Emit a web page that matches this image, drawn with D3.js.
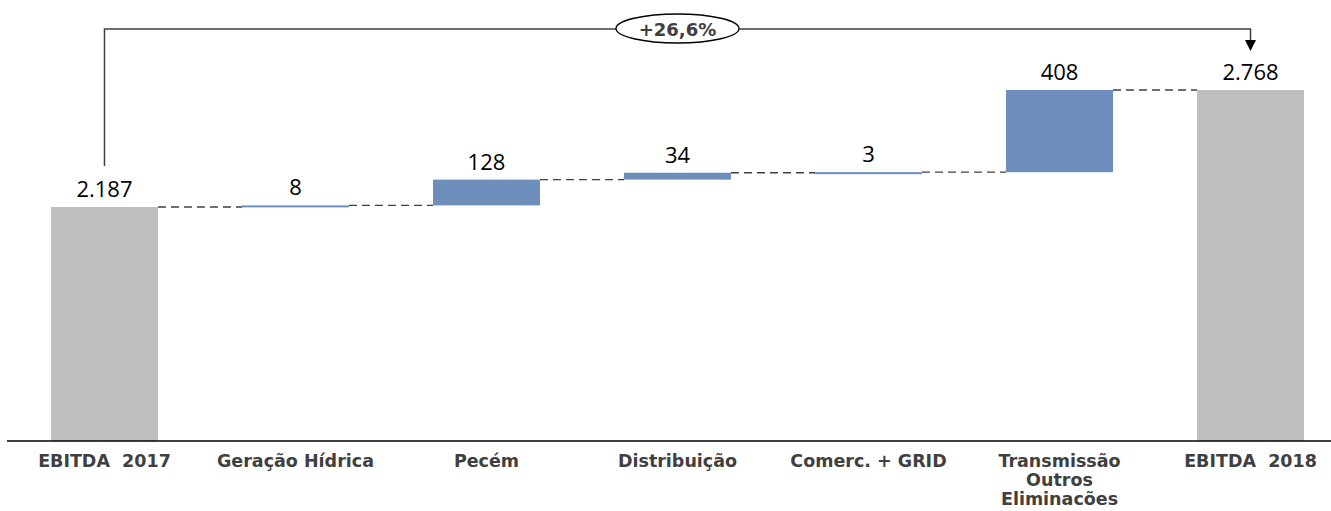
<!DOCTYPE html>
<html>
<head>
<meta charset="utf-8">
<script src="https://cdn.jsdelivr.net/npm/d3@7"></script>
<style>
  body { margin: 0; background: #fff; }
  svg { display: block; }
</style>
</head>
<body>
<div id="chart"></div>
<script>
// data
const categories = ["EBITDA  2017", "Geração Hídrica", "Pecém", "Distribuição", "Comerc. + GRID", "Transmissão\nOutros\nEliminacões", "EBITDA  2018"];
const values = [2187, 8, 128, 34, 3, 408, 2768];
const valueLabels = ["2.187", "8", "128", "34", "3", "408", "2.768"];
const kinds = ["total", "step", "step", "step", "step", "step", "total"];
const growthLabel = "+26,6%";

const width = 1331, height = 511;
const baseY = 441;
const yMin = 1025; // value axis is cut, not starting at zero

const svg = d3.select("#chart").append("svg")
    .attr("width", width)
    .attr("height", height);

const x = d3.scaleBand()
    .domain(categories)
    .range([51, 1304])
    .paddingInner(0.44)
    .paddingOuter(0);

const y = d3.scaleLinear()
    .domain([yMin, 2768])
    .range([baseY, 90]);

// build waterfall rows
let running = 0;
const rows = categories.map((c, i) => {
    let y0, y1;
    if (kinds[i] === "total") {
        y0 = yMin; y1 = values[i];
        running = values[i];
    } else {
        y0 = running; y1 = running + values[i];
        running = y1;
    }
    return { cat: c, y0: y0, y1: y1, kind: kinds[i], label: valueLabels[i] };
});

// bars
svg.selectAll(".bar")
    .data(rows)
    .enter().append("rect")
    .attr("class", "bar")
    .attr("x", d => x(d.cat))
    .attr("width", x.bandwidth())
    .attr("y", d => y(d.y1))
    .attr("height", d => Math.max(2, y(d.y0) - y(d.y1)))
    .attr("fill", d => d.kind === "total" ? "#bfbfbf" : "#6d8ebb");

// dashed connectors
svg.selectAll(".conn")
    .data(rows.slice(0, -1))
    .enter().append("line")
    .attr("x1", d => x(d.cat) + x.bandwidth())
    .attr("x2", (d, i) => x(categories[i + 1]))
    .attr("y1", d => y(d.y1))
    .attr("y2", d => y(d.y1))
    .attr("stroke", "#404040")
    .attr("stroke-width", 1.3)
    .attr("stroke-dasharray", "8,5");

// value labels
svg.selectAll(".val")
    .data(rows)
    .enter().append("text")
    .attr("x", d => x(d.cat) + x.bandwidth() / 2)
    .attr("y", d => y(d.y1) - 10)
    .attr("text-anchor", "middle")
    .attr("font-family", "'Open Sans', sans-serif")
    .attr("font-size", 22)
    .attr("fill", "#000")
    .text(d => d.label);

// x axis
const xAxis = svg.append("g")
    .attr("transform", `translate(0,${baseY})`)
    .call(d3.axisBottom(x).tickSize(0).tickFormat(""));
xAxis.select(".domain")
    .attr("d", `M7,0H${width}`)
    .attr("stroke", "#000")
    .attr("stroke-width", 1.5);

svg.selectAll(".cat")
    .data(categories)
    .enter().append("text")
    .attr("class", "cat")
    .attr("x", d => x(d) + x.bandwidth() / 2)
    .attr("y", 467)
    .attr("text-anchor", "middle")
    .attr("font-family", "'DejaVu Sans', Verdana, sans-serif")
    .attr("font-weight", "bold")
    .attr("font-size", 17.5)
    .attr("fill", "#404040")
    .attr("xml:space", "preserve")
    .each(function(d) {
        const lines = d.split("\n");
        d3.select(this).selectAll("tspan")
            .data(lines)
            .enter().append("tspan")
            .attr("x", x(d) + x.bandwidth() / 2)
            .attr("dy", (l, i) => i === 0 ? 0 : 19)
            .text(l => l);
    });

// growth bracket
const first = rows[0], last = rows[rows.length - 1];
const xa = x(first.cat) + x.bandwidth() / 2;
const xb = x(last.cat) + x.bandwidth() / 2;
const topY = 29;

svg.append("path")
    .attr("d", `M${xa},${y(first.y1) - 41}V${topY}H${xb}V42`)
    .attr("fill", "none")
    .attr("stroke", "#404040")
    .attr("stroke-width", 1.5);

svg.append("path")
    .attr("d", `M${xb - 5.5},40L${xb + 5.5},40L${xb},51Z`)
    .attr("fill", "#000");

const midX = (x(categories[3]) + x.bandwidth() / 2);
svg.append("ellipse")
    .attr("cx", midX)
    .attr("cy", topY - 0.5)
    .attr("rx", 61.5)
    .attr("ry", 14.5)
    .attr("fill", "#fff")
    .attr("stroke", "#000")
    .attr("stroke-width", 1.3);

svg.append("text")
    .attr("x", midX)
    .attr("y", topY + 6.5)
    .attr("text-anchor", "middle")
    .attr("font-family", "'DejaVu Sans', Verdana, sans-serif")
    .attr("font-weight", "bold")
    .attr("font-size", 18)
    .attr("fill", "#404040")
    .text(growthLabel);
</script>
</body>
</html>
